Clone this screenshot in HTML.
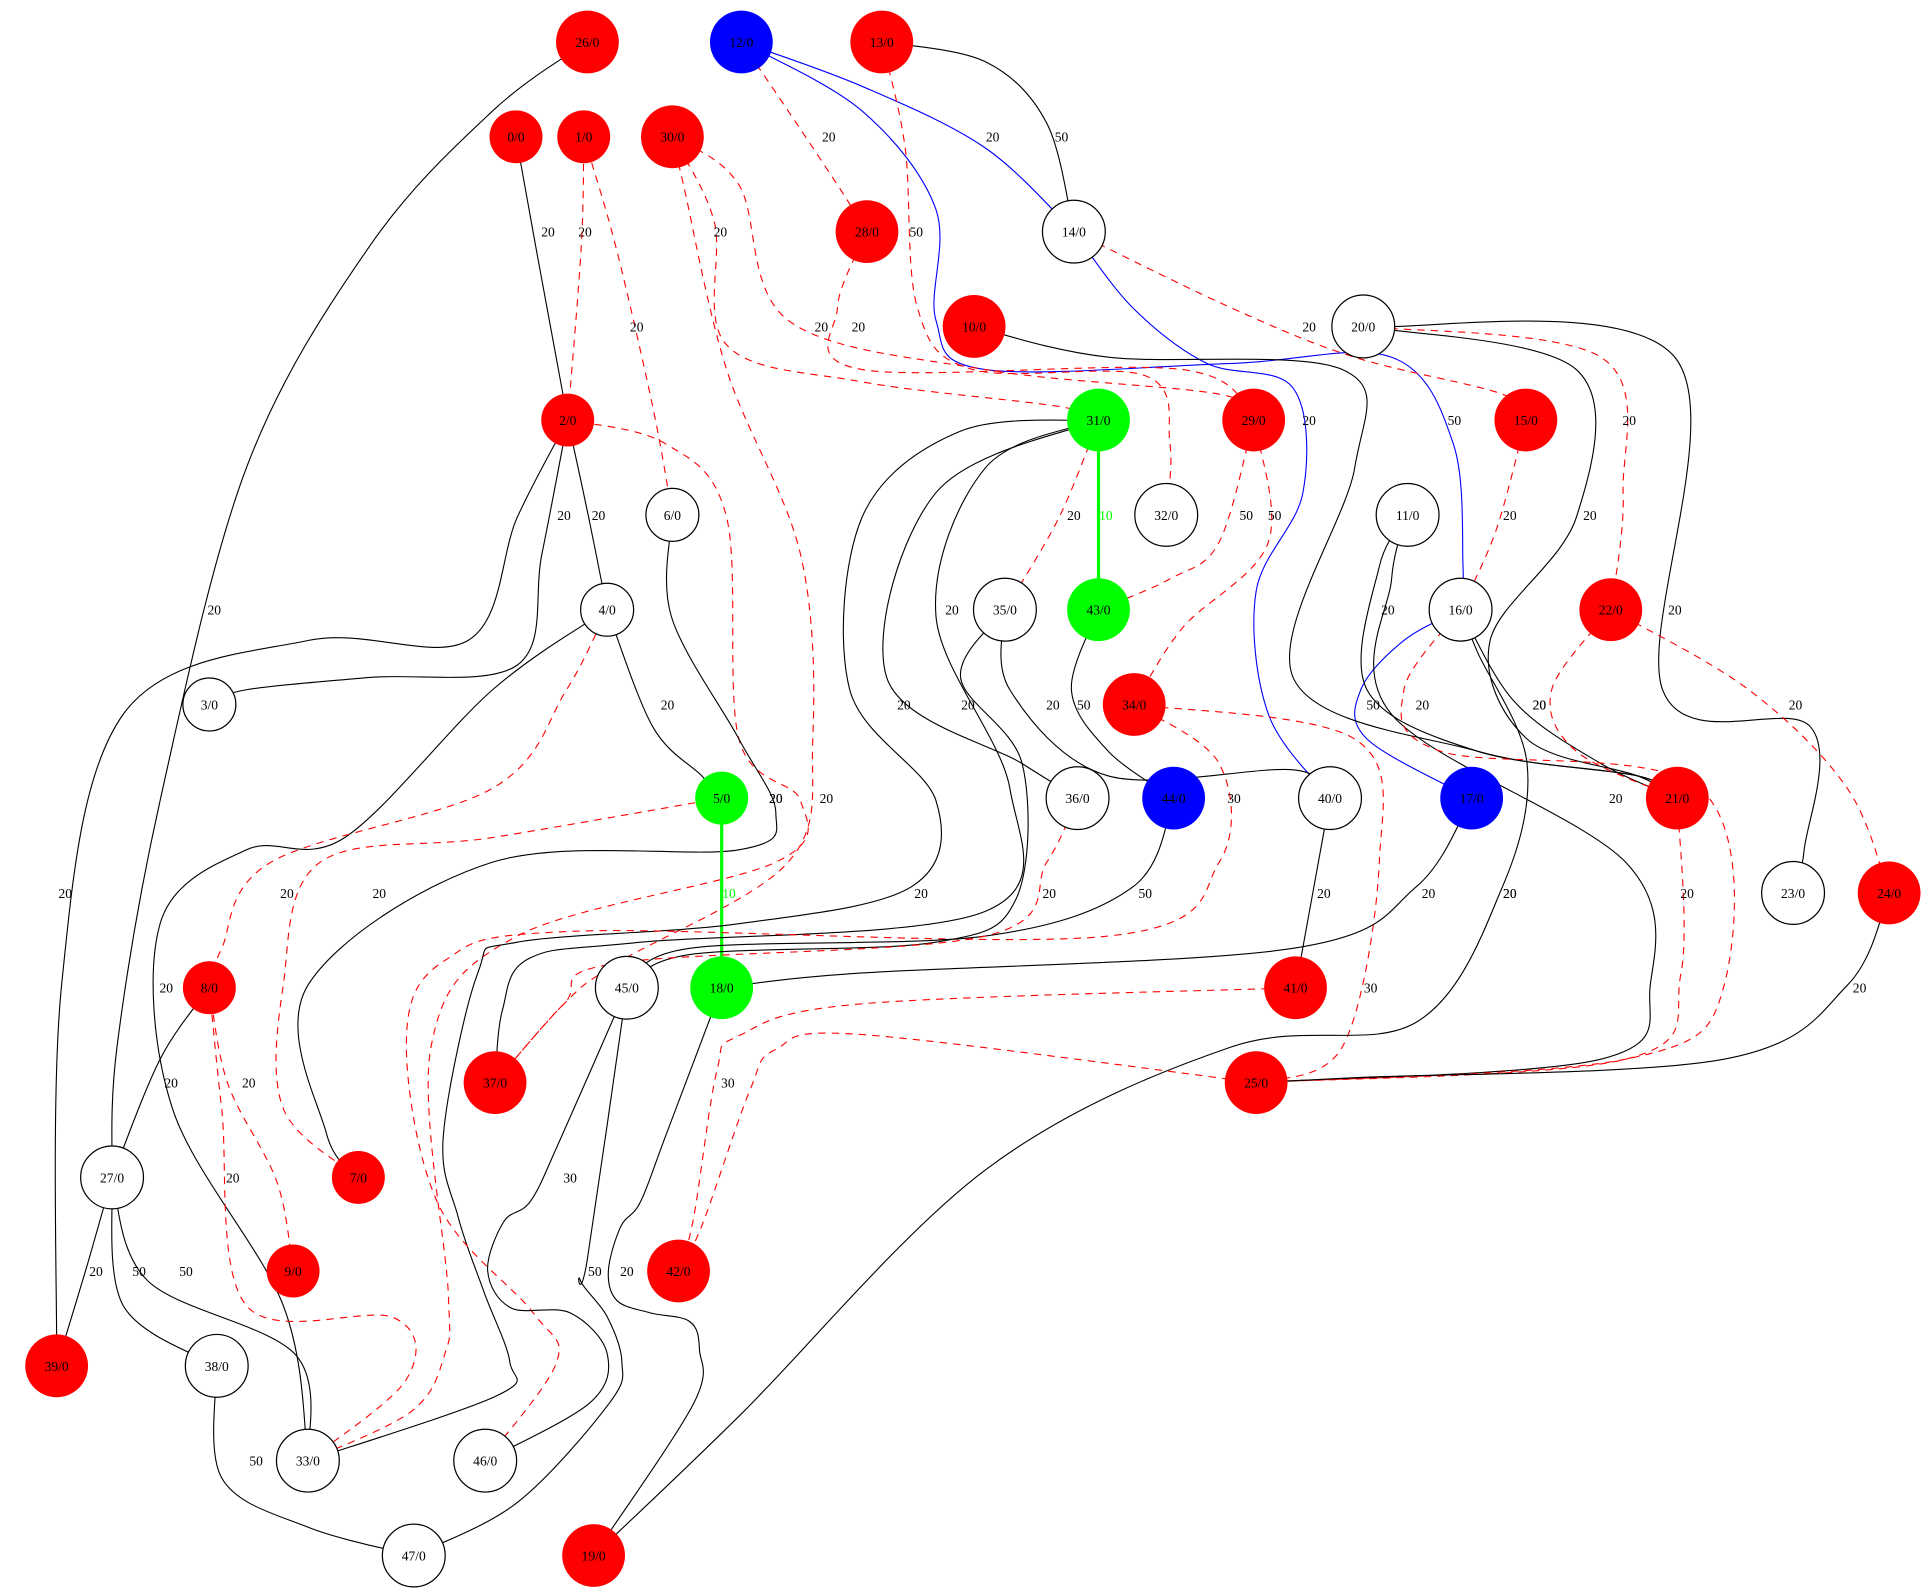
<!DOCTYPE html>
<html><head><meta charset="utf-8"><style>
html,body{margin:0;padding:0;background:#fff}
svg{display:block}
text{font-family:"Liberation Serif",serif;font-size:11px}
</style></head><body>
<svg id="g" width="1931" height="1595" viewBox="0 0 1568 1295" xmlns="http://www.w3.org/2000/svg">
<g id="edges"></g>
<g id="labels"></g>
<g id="nodes"></g>
</svg>
<script>
const nodeIds=[26,12,13,0,1,30,28,14,10,20,2,31,29,15,6,32,11,4,35,43,16,22,3,34,5,36,44,40,17,21,23,24,8,45,18,41,37,25,27,7,9,42,39,38,33,46,47,19];
const nodeX=[477,602,716,419,474,546,704,872,791,1107,461,892,1018,1239,546,947,1143,493,816,892,1186,1308,170,921,586,875,953,1080,1195,1362,1456,1534,170,509,586,1052,402,1020,91,291,238,551,46,176,250,394,336,482];
const nodeY=[34,34,34,111,111,111,188,188,265,265,341,341,341,341,418,418,418,495,495,495,495,495,572,572,648,648,648,648,648,648,725,725,802,802,802,802,879,879,956,956,1032,1032,1109,1109,1186,1186,1263,1263];
const nodeColor=['r','b','r','r','r','r','r','w','r','w','r','g','r','r','w','w','w','w','w','g','w','r','w','r','g','w','b','w','b','r','w','r','r','w','g','r','r','r','w','r','r','r','r','w','w','w','w','r'];
const smallNodes=[0,1,2,6,4,3,5,8,7,9];
// edges: from, to, style, label, label position, waypoints
const edges=[
[26,27,'s','20',[174,495],[[400,90],[300,200],[200,380],[130,650],[95,850]]],
[12,14,'b','20',[806,111],[[700,70],[800,120]]],
[12,16,'b','50',[1181,341],[[700,90],[760,170],[760,260],[800,300],[1000,295],[1130,290],[1180,360],[1188,460]]],
[14,40,'b','20',[1063,341],[[920,250],[980,295],[1050,315],[1058,400],[1020,480],[1030,580]]],
[16,17,'b','50',[1115,572],[[1140,520],[1105,560],[1110,600]]],
[12,28,'d','20',[673,111],[[640,90],[680,150]]],
[13,14,'s','50',[862,111],[[800,50],[850,100]]],
[13,32,'d','50',[744,188],[[735,120],[745,250],[790,300],[930,305],[950,360]]],
[0,2,'s','20',[445,188],[[435,200]]],
[1,2,'d','20',[475,188],[[472,200]]],
[1,6,'d','20',[517,265],[[500,200],[530,330]]],
[30,31,'d','20',[585,188],[[580,180],[590,280],[700,310],[860,330]]],
[30,29,'d','20',[667,265],[[600,150],[640,260],[800,300],[990,320]]],
[28,29,'d','20',[697,265],[[680,250],[700,300],[960,300]]],
[30,37,'d','20',[671,648],[[555,150],[590,300],[650,450],[660,600],[640,700],[501,782],[458,815]]],
[14,15,'d','20',[1063,265],[[1000,250],[1100,290],[1220,320]]],
[10,21,'s','20',[1312,648],[[900,290],[1090,300],[1100,380],[1050,550],[1200,610],[1330,630]]],
[20,22,'d','20',[1323,341],[[1300,290],[1318,400]]],
[20,23,'s','20',[1360,495],[[1360,290],[1350,560],[1470,590],[1465,690]]],
[20,21,'s','20',[1291,418],[[1280,300],[1280,420],[1210,520],[1240,600],[1330,630]]],
[2,4,'s','20',[486,418],[[478,420]]],
[2,3,'s','20',[458,418],[[440,450],[420,540],[300,550],[200,560]]],
[2,39,'s','20',[53,725],[[420,420],[380,520],[250,520],[100,580],[50,800]]],
[2,33,'d','20',[630,648],[[540,360],[590,420],[600,600],[650,650],[630,700],[420,760],[350,850],[364,1050],[361,1100],[334,1146]]],
[6,7,'s','20',[630,648],[[545,500],[600,600],[630,660],[600,690],[400,700],[250,800],[265,920]]],
[4,5,'s','20',[542,572],[[530,590],[570,630]]],
[4,33,'s','20',[135,802],[[400,560],[280,680],[200,690],[130,750],[140,900],[230,1060]]],
[4,8,'d','20',[233,725],[[460,560],[400,640],[220,700],[180,770]]],
[5,7,'d','20',[308,725],[[400,680],[260,700],[230,800],[230,900]]],
[5,18,'g','10',[592,725],[]],
[31,43,'g','10',[898,418],[]],
[31,35,'d','20',[872,418],[[860,420]]],
[31,33,'s','20',[773,495],[[780,350],[700,420],[690,560],[760,650],[740,720],[600,750],[420,765],[388,790],[360,922],[372,988],[393,1049],[414,1106],[404,1133]]],
[31,37,'s','20',[748,725],[[800,380],[760,500],[820,640],[800,740],[520,765],[430,778],[408,820]]],
[31,36,'s','20',[734,572],[[760,400],[720,550],[830,620]]],
[35,45,'s','20',[786,572],[[780,550],[830,620],[825,730],[760,765],[560,775]]],
[35,40,'s','20',[855,572],[[820,560],[900,630],[1050,625]]],
[43,44,'s','50',[880,572],[[870,560],[900,610]]],
[29,43,'d','50',[1012,418],[[990,440],[950,470]]],
[29,34,'d','50',[1035,418],[[1030,440],[960,510]]],
[34,25,'d','30',[1113,802],[[1100,600],[1120,700],[1090,850]]],
[34,46,'d','30',[1002,648],[[990,620],[990,700],[900,760],[470,756],[361,780],[330,845],[356,978],[433,1066],[452,1106]]],
[44,45,'s','50',[930,725],[[920,720],[800,760],[560,770]]],
[36,37,'d','20',[852,725],[[850,700],[800,760],[501,782],[458,815]]],
[40,41,'s','20',[1075,725],[]],
[17,18,'s','20',[1160,725],[[1150,720],[1050,770],[700,790]]],
[11,21,'s','20',[1127,495],[[1120,460],[1110,560],[1200,610],[1330,630]]],
[11,25,'s','20',[1226,725],[[1130,470],[1130,580],[1320,700],[1340,800],[1300,860]]],
[16,21,'s','20',[1250,572],[[1230,570],[1300,620]]],
[16,25,'d','20',[1155,572],[[1140,560],[1170,610],[1380,640],[1400,800],[1320,860]]],
[16,19,'s','20',[1226,725],[[1200,530],[1240,620],[1220,720],[1150,830],[1000,850],[800,950],[600,1150]]],
[15,16,'d','20',[1226,418],[[1215,430]]],
[22,24,'d','20',[1458,572],[[1420,560],[1500,640]]],
[22,21,'d','20',[1250,572],[[1260,560],[1280,610]]],
[21,25,'d','20',[1370,725],[[1365,790],[1320,860]]],
[24,25,'s','20',[1510,802],[[1500,800],[1400,860],[1100,875]]],
[41,42,'d','30',[591,879],[[700,815],[600,841],[582,870],[563,990]]],
[25,42,'d','20',[0,0],[[700,840],[630,852],[609,885],[570,995]]],
[18,19,'s','20',[509,1032],[[541,921],[520,976],[504,996],[494,1032],[501,1056],[528,1066],[560,1073],[568,1096],[563,1140]]],
[45,46,'s','30',[463,956],[[455,925],[431,975],[409,992],[396,1032],[415,1062],[463,1066],[493,1099],[479,1139]]],
[45,47,'s','50',[483,1032],[[477,1022],[471,1039],[493,1069],[505,1106],[495,1139],[420,1220]]],
[8,27,'s','20',[139,879],[[130,860]]],
[8,9,'d','20',[202,879],[[185,880],[225,960]]],
[8,33,'d','20',[189,956],[[180,900],[200,1060],[320,1070],[330,1120]]],
[27,39,'s','20',[78,1032],[[70,1030]]],
[27,38,'s','50',[113,1032],[[100,1060]]],
[27,33,'s','50',[151,1032],[[120,1040],[240,1100]]],
[38,47,'s','50',[208,1186],[[180,1200],[250,1240]]]
];
const NS='http://www.w3.org/2000/svg';
function pos(id){const i=nodeIds.indexOf(id);return [nodeX[i],nodeY[i]];}
function smooth(pts){
  let d='M'+pts[0][0]+','+pts[0][1];
  for(let i=0;i<pts.length-1;i++){
    const p0=pts[i-1]||pts[i],p1=pts[i],p2=pts[i+1],p3=pts[i+2]||p2;
    const c1=[p1[0]+(p2[0]-p0[0])/6,p1[1]+(p2[1]-p0[1])/6];
    const c2=[p2[0]-(p3[0]-p1[0])/6,p2[1]-(p3[1]-p1[1])/6];
    d+=' C'+c1[0].toFixed(1)+','+c1[1].toFixed(1)+' '+c2[0].toFixed(1)+','+c2[1].toFixed(1)+' '+p2[0]+','+p2[1];
  }
  return d;
}
const eg=document.getElementById('edges'),lg=document.getElementById('labels'),ng=document.getElementById('nodes');
edges.forEach(e=>{
  const pts=[pos(e[0])].concat(e[5]).concat([pos(e[1])]);
  const p=document.createElementNS(NS,'path');
  p.setAttribute('d',smooth(pts));
  p.setAttribute('fill','none');
  const st=e[2];
  p.setAttribute('stroke',st=='s'?'#000':st=='d'?'#f00':st=='b'?'#00f':'#0f0');
  p.setAttribute('stroke-width',st=='g'?'2.6':'0.9');
  if(st=='d')p.setAttribute('stroke-dasharray','6,5');
  
  
  eg.appendChild(p);
  if(e[4][0]>0){
    const t=document.createElementNS(NS,'text');
    t.setAttribute('x',e[4][0]);t.setAttribute('y',e[4][1]+4);
    t.setAttribute('text-anchor','middle');
    t.setAttribute('fill',st=='g'?'#0f0':'#000');
    t.textContent=e[3];
    
    
    lg.appendChild(t);
  }
});
nodeIds.forEach((id,i)=>{
  const g=document.createElementNS(NS,'g');
  
  
  const c=document.createElementNS(NS,'circle');
  const r=smallNodes.includes(id)?21.5:25.5;
  c.setAttribute('cx',nodeX[i]);c.setAttribute('cy',nodeY[i]);
  c.setAttribute('r',r);
  const col=nodeColor[i];
  c.setAttribute('fill',col=='r'?'#f00':col=='b'?'#00f':col=='g'?'#0f0':'#fff');
  c.setAttribute('stroke',col=='w'?'#000':'none');
  c.setAttribute('stroke-width','1');
  g.appendChild(c);
  const t=document.createElementNS(NS,'text');
  t.setAttribute('x',nodeX[i]);t.setAttribute('y',nodeY[i]+4);
  t.setAttribute('text-anchor','middle');
  t.textContent=id+'/0';
  g.appendChild(t);
  ng.appendChild(g);
});
</script>
</body></html>
